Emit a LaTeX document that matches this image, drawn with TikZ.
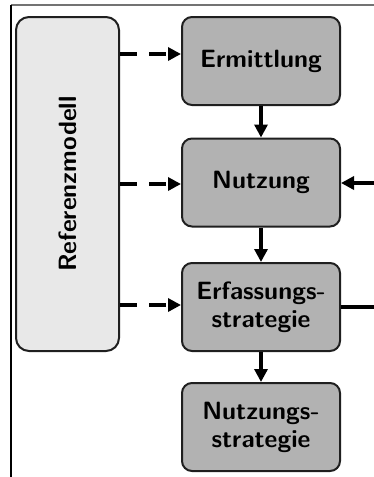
\documentclass[tikz,border=0pt]{standalone}
\usetikzlibrary{arrows.meta}
\begin{document}
\begin{tikzpicture}[x=1pt,y=-1pt,
  phase/.style={draw=black!88,line width=2pt,rounded corners=10pt,fill=black!30,
    minimum width=158pt,minimum height=88pt,inner sep=0pt,align=center,
    font=\fontsize{25}{28}\selectfont\sffamily\bfseries},
  refbox/.style={draw=black!88,line width=2pt,rounded corners=13pt,fill=black!9,
    minimum width=334pt,minimum height=103pt,inner sep=0pt,
    font=\fontsize{25}{28}\selectfont\sffamily\bfseries},
  flow/.style={line width=4pt,-{Triangle[length=13pt,width=13pt]}},
  feed/.style={flow,dash pattern=on 17pt off 12pt}]
  \useasboundingbox (0,0) rectangle (374,477);
  % frame edges
  \coordinate (fTL) at (11,5);
  \coordinate (fTR) at (374,5);
  \coordinate (fBL) at (11,477);
  \draw[black!55,line width=1.2pt] (fTL) -- (fTR);
  \draw[black,line width=1.2pt] (fTL) -- (fBL);
  % reference model
  \node[refbox,rotate=90] (ref) at (67.5,184) {Referenzmodell};
  % phases
  \node[phase] (erm) at (261,61) {Ermittlung};
  \node[phase] (nutz) at (261,182.5) {Nutzung};
  \node[phase] (erf) at (261,307) {Erfassungs-\\strategie};
  \node[phase] (nstr) at (261,427) {Nutzungs-\\strategie};
  % sequence
  \draw[flow] (erm) -- (nutz);
  \draw[flow] (nutz) -- (erf);
  \draw[flow] (erf) -- (nstr);
  % inputs from the reference model
  \draw[feed] (ref.south |- 0,54) -- (erm.west |- 0,54);
  \draw[feed] (ref.south |- 0,184) -- (erm.west |- 0,184);
  \draw[feed] (ref.south |- 0,305) -- (erm.west |- 0,305);
  % external links
  \coordinate (inR) at (374,183);
  \coordinate (outR) at (374,307);
  \draw[flow] (inR) -- (nutz.east |- inR);
  \draw[line width=4pt] (erf.east |- outR) -- (outR);
\end{tikzpicture}
\end{document}
